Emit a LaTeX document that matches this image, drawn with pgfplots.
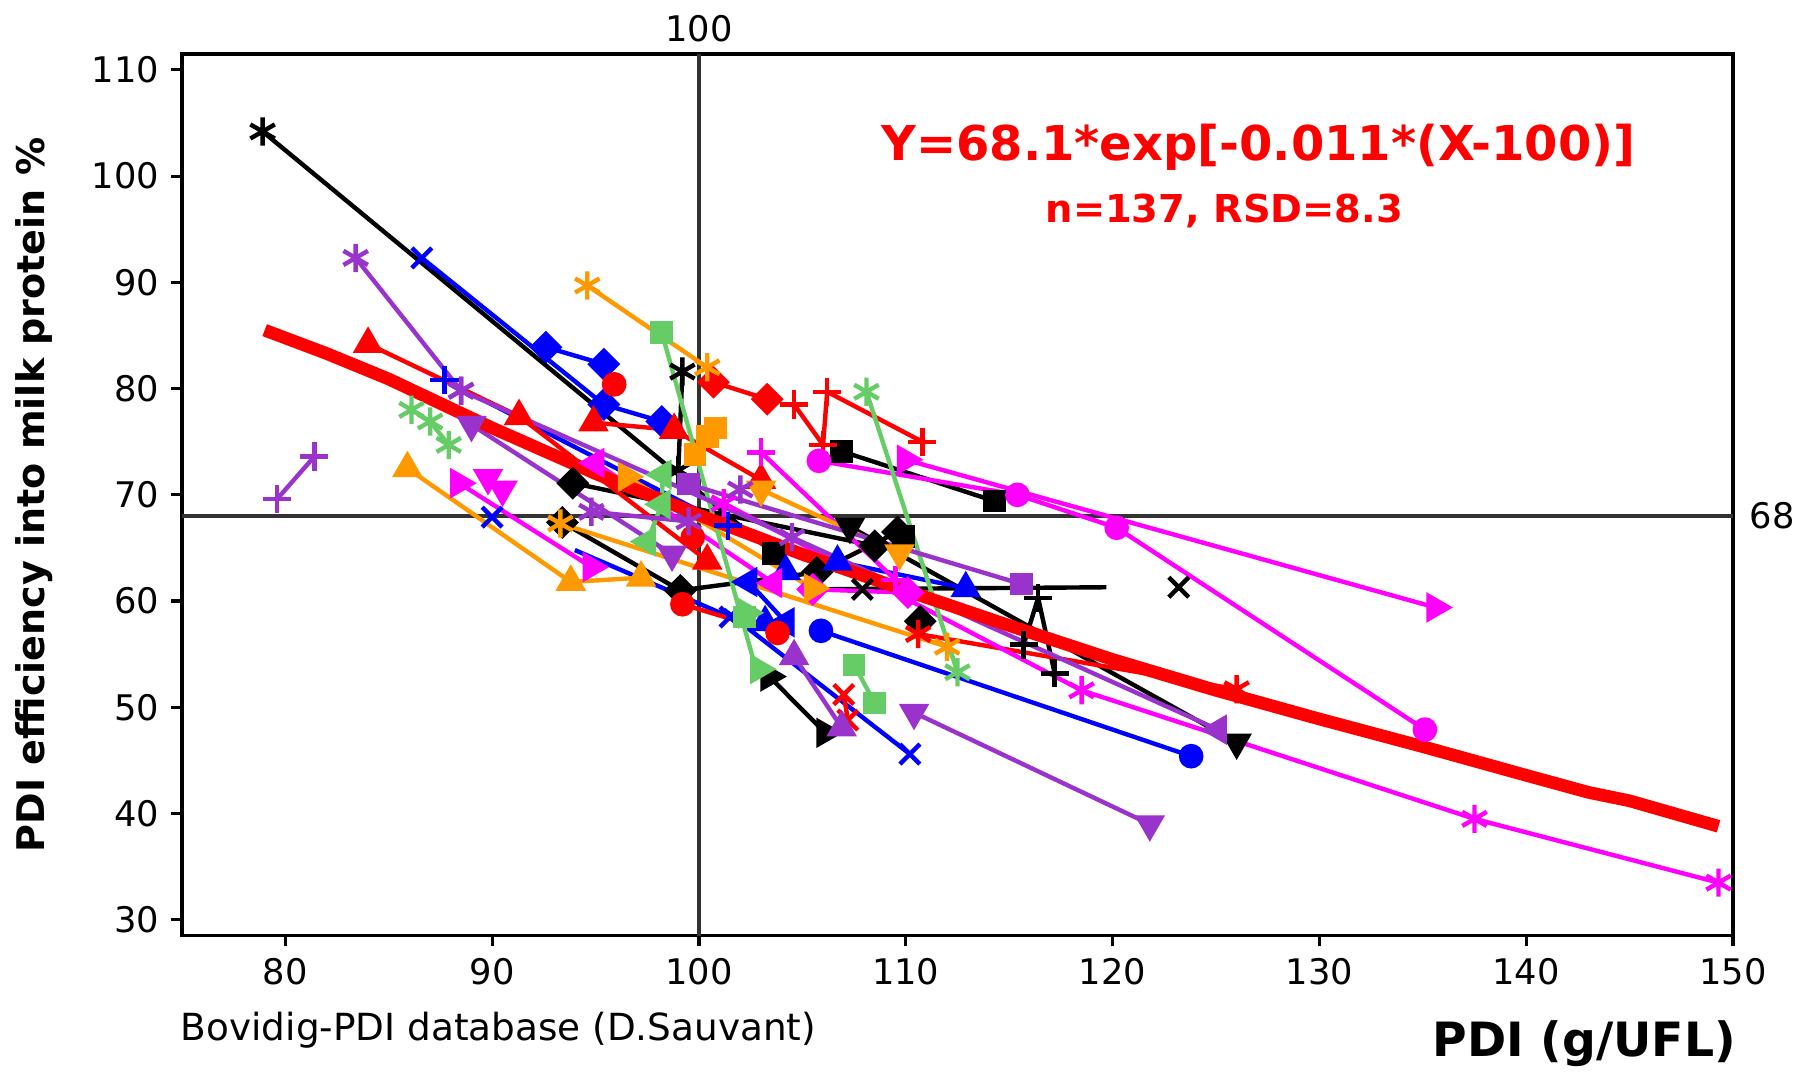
\documentclass[border=0pt]{standalone}
\usepackage{fontspec}
\setmainfont{DejaVu Sans}
\usepackage{pgfplots}
\pgfplotsset{compat=1.18}
\definecolor{cB}{HTML}{0000FF}
\definecolor{cR}{HTML}{FF0000}
\definecolor{cM}{HTML}{FF00FF}
\definecolor{cO}{HTML}{FF9900}
\definecolor{cG}{HTML}{66CC66}
\definecolor{cP}{HTML}{9933CC}
\definecolor{cK}{HTML}{333333}
\pgfplotsset{
  ln/.style={line width=1.25pt},
  mT/.style={mark=triangle*, mark size=4.4pt, mark options={solid, line width=0.6pt}},
  mTd/.style={mark=triangle*, mark size=4.4pt, mark options={solid, line width=0.6pt, rotate=180}},
  mTr/.style={mark=triangle*, mark size=4.4pt, mark options={solid, line width=0.6pt, rotate=-90}},
  mTl/.style={mark=triangle*, mark size=4.4pt, mark options={solid, line width=0.6pt, rotate=90}},
  mS/.style={mark=square*, mark size=2.9pt, mark options={solid, line width=0.6pt}},
  mD/.style={mark=square*, mark size=3.0pt, mark options={solid, line width=0.6pt, rotate=45}},
  mC/.style={mark=*, mark size=3.2pt, mark options={solid, line width=0.6pt}},
  mX/.style={mark=x, mark size=4pt, mark options={solid}},
  mA/.style={mark=asterisk, mark size=4pt, mark options={solid}},
  mP/.style={mark=+, mark size=4pt, mark options={solid}},
}
\begin{document}
\begin{tikzpicture}
\begin{axis}[
  scale only axis, width=439.9pt, height=250.1pt,
  xmin=75, xmax=150, ymin=28.5, ymax=111.5,
  xtick={80,90,...,150}, ytick={30,40,...,110},
  tick pos=left, tick align=outside, major tick length=3pt,
  axis line style={line width=0.9pt},
  every tick/.style={black, line width=0.9pt},
  ticklabel style={font=\fontsize{10}{12}\selectfont},
  /pgf/number format/assume math mode=true,
]
% reference lines
\addplot[cK, line width=1pt] coordinates {(100,28.5) (100,111.5)};
\addplot[cK, line width=1pt] coordinates {(75,68) (150,68)};
% black
\addplot[black, ln, mA, mark indices={1}] coordinates {(78.9,104.2) (103.6,64.5)};
\addplot[black, ln, mS, only marks] coordinates {(103.6,64.5)};
\addplot[black, ln, mA] coordinates {(99.2,81.6) (99.0,72.3)};
\addplot[black, ln, mS] coordinates {(106.9,74.1) (114.3,69.4)};
\addplot[black, ln, mD] coordinates {(93.9,71.1) (108.5,65.2)};
\addplot[black, ln, mD] coordinates {(93.4,67.4) (99.1,61.0) (105.7,62.7) (109.6,66.5)};
\addplot[black, ln, mS, only marks] coordinates {(109.9,66.1)};
\addplot[black, ln, mTd] coordinates {(107.3,67.0) (126.0,46.7)};
\addplot[black, ln, mTr] coordinates {(103.4,52.9) (106.1,47.6)};
\addplot[black, ln, mX, only marks] coordinates {(107.9,61.1) (123.2,61.3)};
\addplot[black, ln] coordinates {(105.2,61.1) (119.7,61.3)};
\addplot[black, ln, mP] coordinates {(115.7,55.9) (116.4,60.3) (117.2,53.2)};
\addplot[black, ln, mD, only marks] coordinates {(110.7,58.1)};
% blue
\addplot[cB, ln, mX, mark indices={1}] coordinates {(86.6,92.3) (95.4,78.5)};
\addplot[cB, ln, mD] coordinates {(92.6,83.9) (95.4,82.3)};
\addplot[cB, ln, mD] coordinates {(95.4,78.5) (98.2,76.9)};
\addplot[cB, ln, mP] coordinates {(87.7,80.8) (101.4,67.1)};
\addplot[cB, ln, mX, only marks] coordinates {(90.0,67.9)};
\addplot[cB, ln, mX, mark indices={2}] coordinates {(94.0,64.8) (101.5,58.5)};
\addplot[cB, ln, mC] coordinates {(105.9,57.2) (123.8,45.4)};
\addplot[cB, ln, mT] coordinates {(106.7,63.7) (112.9,61.2)};
\addplot[cB, ln, mT, only marks] coordinates {(103.2,58.0) (104.2,62.8)};
\addplot[cB, ln, mX, mark indices={2}] coordinates {(101.2,59.2) (110.2,45.6)};
\addplot[cB, ln, mTl] coordinates {(102.4,61.8) (104.2,58.0)};
% red
\addplot[cR, ln, mT] coordinates {(84.0,84.2) (91.3,77.4) (100.4,63.8)};
\addplot[cR, ln, mT] coordinates {(94.9,76.8) (98.8,76.1) (103.0,71.4)};
\addplot[cR, ln, mC, only marks] coordinates {(99.7,66.0) (95.9,80.4)};
\addplot[cR, ln, mD] coordinates {(100.7,80.6) (103.3,79.0)};
\addplot[cR, ln, mP] coordinates {(104.6,78.5) (106.0,74.7) (106.2,79.7) (110.8,75.0)};
\addplot[cR, ln, mC] coordinates {(99.2,59.7) (103.8,57.0)};
\addplot[cR, ln, mA] coordinates {(110.6,56.9) (126.0,51.7)};
\addplot[cR, ln, mX] coordinates {(107.0,51.2) (107.2,48.8)};
% magenta
\addplot[cM, ln, mC] coordinates {(105.8,73.2) (115.4,70.0) (120.2,66.9) (135.1,47.9)};
\addplot[cM, ln, mTr] coordinates {(110.0,73.3) (135.6,59.4)};
\addplot[cM, ln, mTr] coordinates {(88.4,71.1) (94.8,63.2)};
\addplot[cM, ln, mTl] coordinates {(95.0,73.0) (103.6,61.7)};
\addplot[cM, ln, mTd] coordinates {(89.8,71.6) (90.5,70.5)};
\addplot[cM, ln, mA] coordinates {(101.2,69.2) (118.5,51.6) (137.5,39.5) (149.3,33.5)};
\addplot[cM, ln, mP] coordinates {(103.0,74.0) (109.5,62.0)};
\addplot[cM, ln, mD] coordinates {(105.5,61.1) (110.1,60.8)};
% orange
\addplot[cO, ln, mA] coordinates {(94.6,89.7) (100.4,82.0)};
\addplot[cO, ln, mS] coordinates {(99.8,73.8) (100.4,75.5) (100.8,76.3)};
\addplot[cO, ln, mT] coordinates {(85.9,72.5) (93.8,61.8) (97.2,62.2)};
\addplot[cO, ln, mTr] coordinates {(96.5,71.7) (105.5,61.2)};
\addplot[cO, ln, mTd] coordinates {(103.0,70.5) (109.7,64.5)};
\addplot[cO, ln, mA] coordinates {(93.3,67.3) (112.0,55.7)};
% green
\addplot[cG, ln, mS, mark indices={1}] coordinates {(98.2,85.3) (102.7,54.0)};
\addplot[cG, ln, mTr, only marks] coordinates {(102.3,58.9) (102.9,53.6)};
\addplot[cG, ln, mA] coordinates {(108.1,79.7) (112.5,53.3)};
\addplot[cG, ln, mS] coordinates {(107.5,54.0) (108.5,50.4)};
\addplot[cG, ln, mA] coordinates {(86.1,78.0) (87.0,76.9) (87.9,74.7)};
\addplot[cG, ln, mTl] coordinates {(98.25,71.9) (98.2,69.1) (97.5,65.6)};
\addplot[cG, ln, mS, only marks] coordinates {(102.2,58.5)};
% purple
\addplot[cP, ln, mA] coordinates {(83.4,92.3) (88.5,79.8)};
\addplot[cP, ln, mA] coordinates {(88.5,79.8) (104.5,66.0)};
\addplot[cP, ln, mP] coordinates {(79.6,69.6) (81.4,73.6)};
\addplot[cP, ln, mTd] coordinates {(89.0,76.6) (98.7,64.4)};
\addplot[cP, ln, mS] coordinates {(99.5,71.0) (115.6,61.6)};
\addplot[cP, ln, mT] coordinates {(104.6,54.8) (106.9,48.1)};
\addplot[cP, ln, mTd] coordinates {(110.4,49.5) (121.8,39.0)};
\addplot[cP, ln, mTl, mark indices={2}] coordinates {(104.5,66.0) (125.1,47.9)};
\addplot[cP, ln, mA] coordinates {(94.8,68.4) (99.5,67.5)};
\addplot[cP, ln, mA, only marks] coordinates {(102.0,70.5)};
% fitted curve
\addplot[cR, line width=3.6pt, line join=round] coordinates {
(79,85.50) (82,83.30) (85,80.90) (90,76.30) (95,72.00) (100,68.10) (105,64.40)
(110,61.00) (115,57.70) (120,54.50) (125,51.60) (130,48.90) (135,46.30)
(140,43.60) (143,42.00) (145,41.20) (149.3,38.80)};
\node[text=cR, font=\bfseries\fontsize{13.6}{16}\selectfont] at (axis cs:127.05,102.7) {Y=68.1*exp[-0.011*(X-100)]};
\node[text=cR, font=\bfseries\fontsize{10.9}{13}\selectfont] at (axis cs:125.4,96.7) {n=137, RSD=8.3};
\coordinate (c100) at (axis cs:100,111.5);
\coordinate (c68) at (axis cs:150,68);
\end{axis}
\node[anchor=base, inner sep=0, font=\fontsize{10}{12}\selectfont] at ([yshift=3.5pt]c100) {100};
\node[anchor=west, inner sep=0, font=\fontsize{10}{12}\selectfont] at ([xshift=4.5pt]c68) {68};
\node[anchor=base east, inner sep=0, font=\bfseries\fontsize{13.4}{16}\selectfont] at ([xshift=1pt,yshift=-34.3pt]current axis.south east) {PDI (g/UFL)};
\node[anchor=base west, inner sep=0, font=\fontsize{10.6}{12}\selectfont] at ([xshift=-0.5pt,yshift=-29.7pt]current axis.south west) {Bovidig-PDI database (D.Sauvant)};
\node[rotate=90, font=\bfseries\fontsize{10.8}{13}\selectfont] at ([xshift=-41.8pt]current axis.west) {PDI efficiency into milk protein \%};
\pgfresetboundingbox
\path[use as bounding box] ([shift={(-51.6pt,-39.1pt)}]current axis.south west) rectangle ([shift={(20.7pt,15.3pt)}]current axis.north east);
\end{tikzpicture}
\end{document}
